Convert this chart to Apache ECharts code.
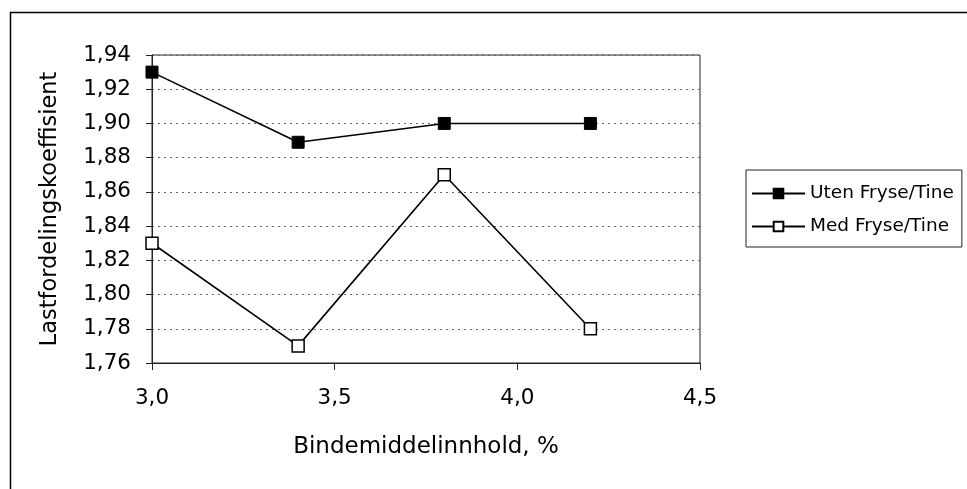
<!DOCTYPE html>
<html>
<head>
<meta charset="utf-8">
<script src="https://cdn.jsdelivr.net/npm/echarts@6/dist/echarts.min.js"></script>
<style>
html,body{margin:0;padding:0;background:#fff;}
#chart{width:967px;height:489px;}
</style>
</head>
<body>
<div id="chart"></div>
<script>
var xValues = [3.0, 3.4, 3.8, 4.2];
var utenValues = [1.93, 1.889, 1.90, 1.90];
var medValues = [1.83, 1.77, 1.87, 1.78];
var seriesNames = ['Uten Fryse/Tine', 'Med Fryse/Tine'];
var xAxisTitle = 'Bindemiddelinnhold, %';
var yAxisTitle = 'Lastfordelingskoeffisient';

function pairs(xs, ys){ return xs.map(function(x,i){ return [x, ys[i]]; }); }

var font = 'DejaVu Sans, Liberation Sans, Arial, sans-serif';
var chart = echarts.init(document.getElementById('chart'), null, {renderer:'canvas'});
chart.setOption({
  animation:false,
  backgroundColor:'#fff',
  graphic:[{type:'rect', shape:{x:10.5,y:12.5,width:980,height:500}, style:{fill:'none', stroke:'#000', lineWidth:1.5}, silent:true}],
  grid:{left:152, right:267, top:55, bottom:126, show:true, borderColor:'#222', borderWidth:1, backgroundColor:'transparent'},
  xAxis:{
    type:'value', min:3.0, max:4.5, interval:0.5,
    name:xAxisTitle, nameLocation:'middle', nameGap:73,
    nameTextStyle:{fontFamily:font, fontSize:23, color:'#000'},
    axisLine:{show:true, lineStyle:{color:'#222', width:1}},
    axisTick:{show:true, inside:false, length:7, lineStyle:{color:'#222'}},
    axisLabel:{margin:24, fontFamily:font, fontSize:21.5, color:'#000', formatter:function(v){return v.toFixed(1).replace('.',',');}},
    splitLine:{show:false}
  },
  yAxis:{
    type:'value', min:1.76, max:1.94, interval:0.02,
    name:yAxisTitle, nameLocation:'middle', nameGap:90, nameRotate:90,
    nameTextStyle:{fontFamily:font, fontSize:22.5, color:'#000'},
    axisLine:{show:true, lineStyle:{color:'#222', width:1}},
    axisTick:{show:true, inside:false, length:6, lineStyle:{color:'#222'}},
    axisLabel:{margin:21, fontFamily:font, fontSize:21.5, color:'#000', formatter:function(v){return v.toFixed(2).replace('.',',');}},
    splitLine:{show:true, lineStyle:{color:'#666', type:[2,4], width:1}}
  },
  legend:{
    orient:'vertical', left:746, top:170,
    padding:[14,8,11,5], itemGap:14, itemWidth:53, itemHeight:12,
    borderColor:'#222', borderWidth:1,
    textStyle:{fontFamily:font, fontSize:18.5, color:'#000'},
    data:seriesNames
  },
  series:[
    {name:seriesNames[0], type:'line', data:pairs(xValues, utenValues),
     symbol:'rect', symbolSize:12, lineStyle:{color:'#000', width:1.6},
     itemStyle:{color:'#000', borderColor:'#000', borderWidth:1}},
    {name:seriesNames[1], type:'line', data:pairs(xValues, medValues),
     symbol:'rect', symbolSize:12, lineStyle:{color:'#000', width:1.6},
     itemStyle:{color:'#fff', borderColor:'#000', borderWidth:1.5}}
  ]
});
</script>
</body>
</html>
